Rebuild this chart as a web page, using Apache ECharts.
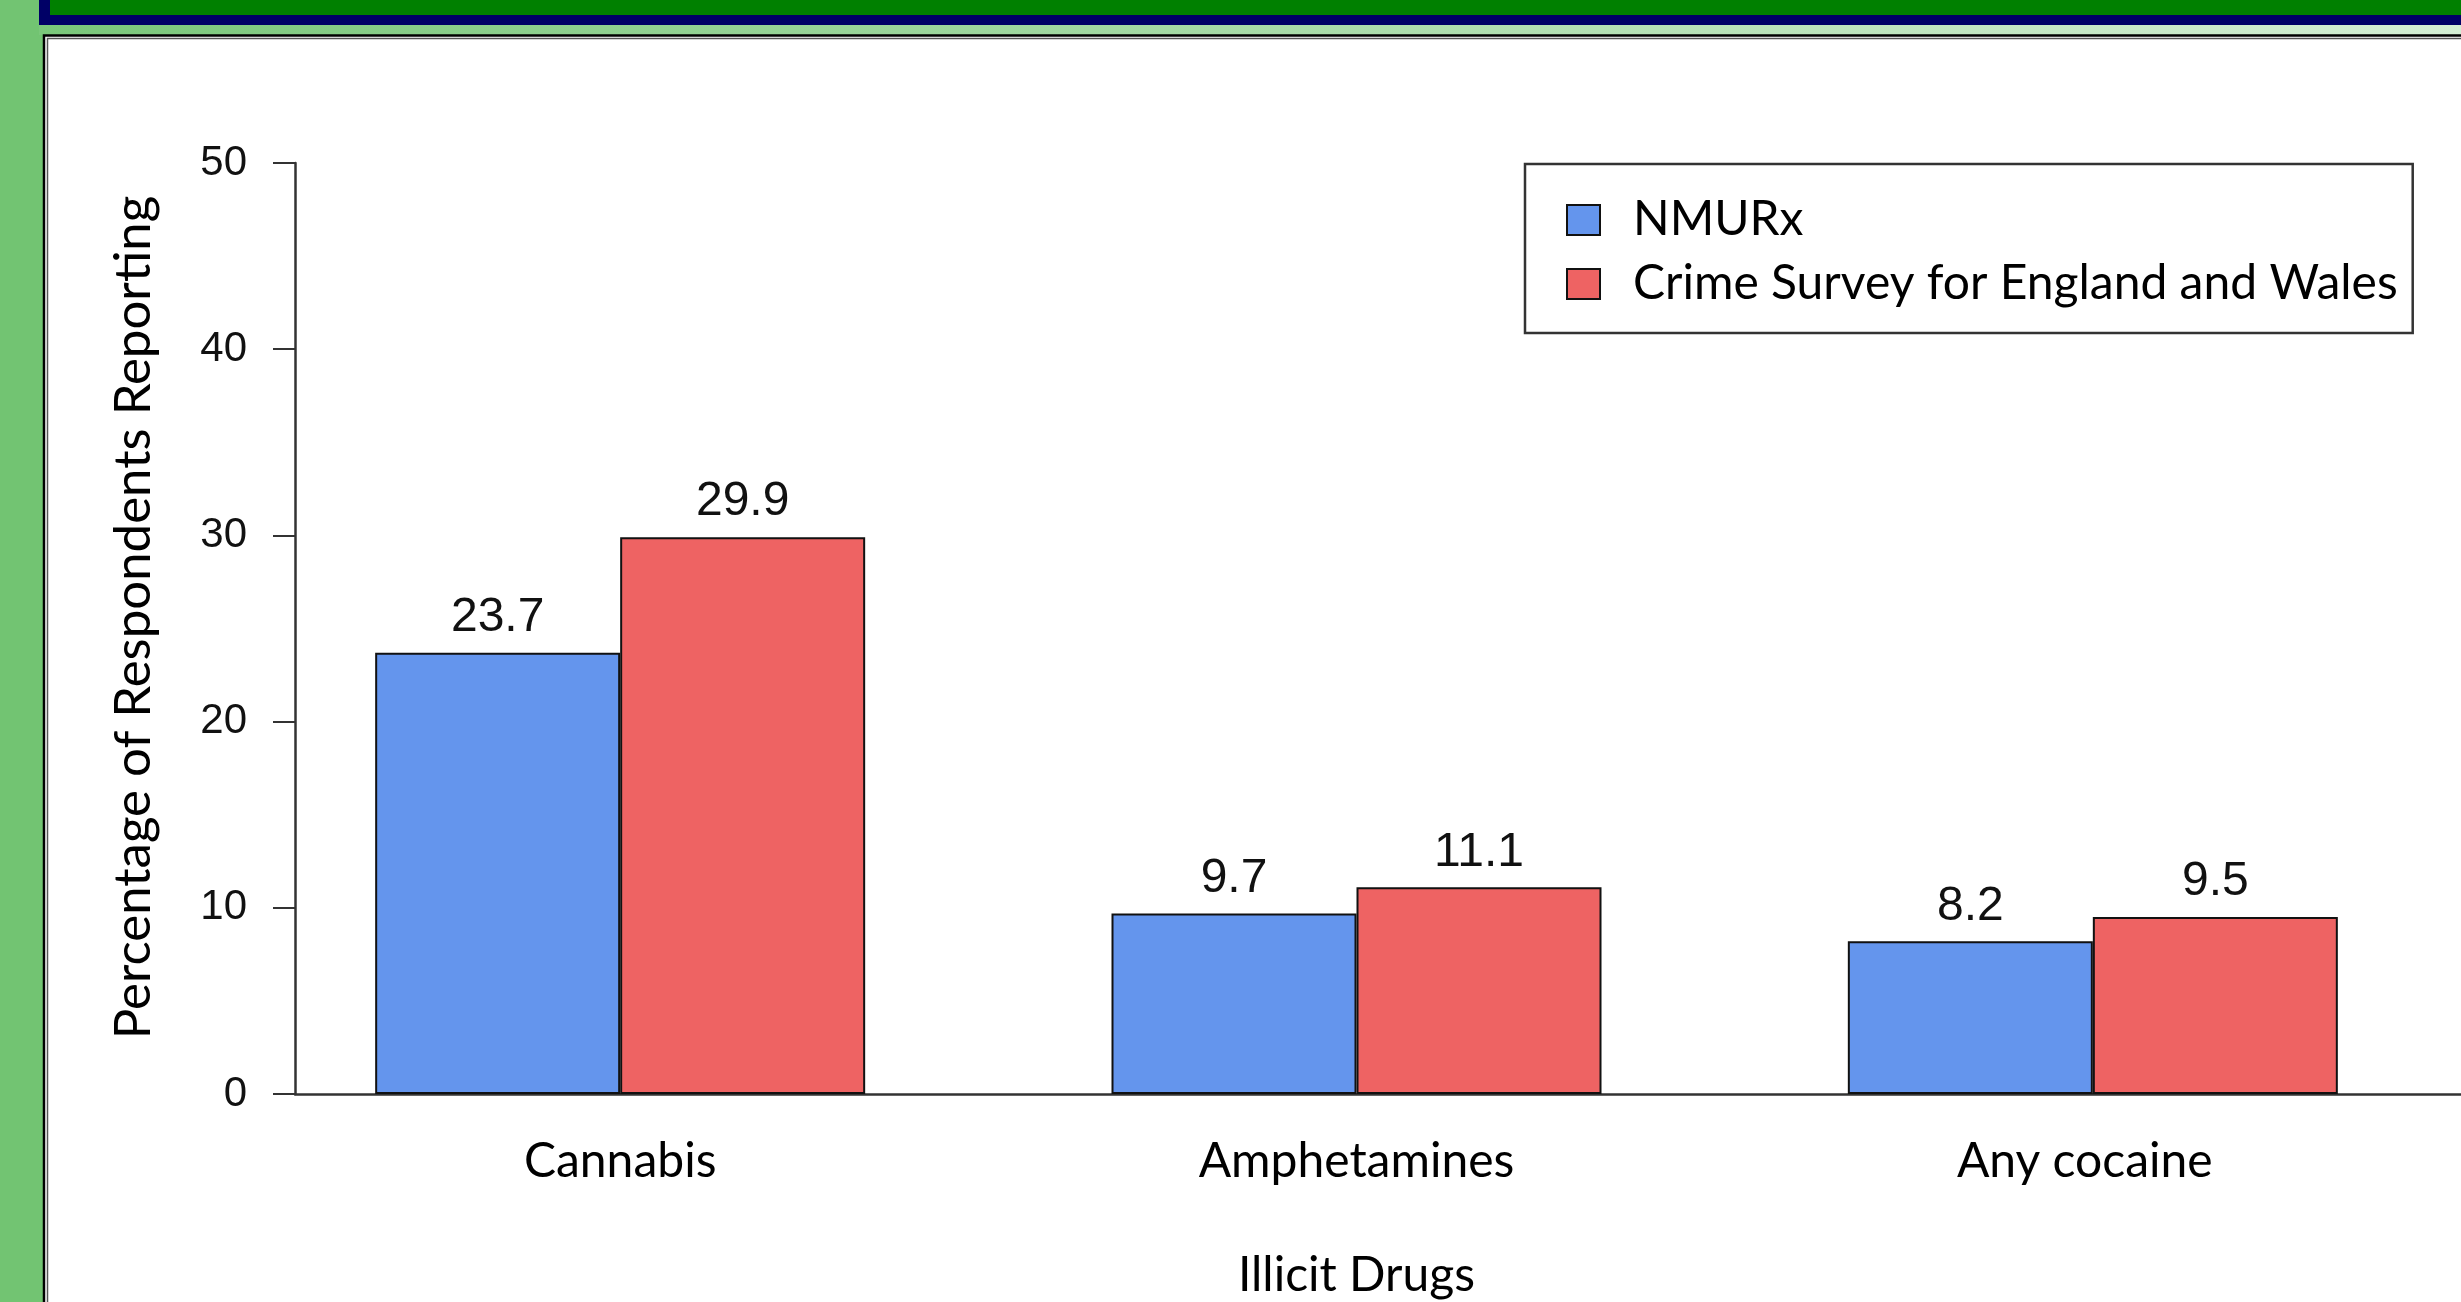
<!DOCTYPE html>
<html>
<head>
<meta charset="utf-8">
<title>Illicit Drugs – NMURx vs Crime Survey for England and Wales</title>
<script src="https://cdn.jsdelivr.net/npm/echarts@6/dist/echarts.min.js"></script>
<style>
  html, body { margin: 0; padding: 0; background: #72c472; }
  #chart { width: 2461px; height: 1302px; }
</style>
</head>
<body>
<div id="chart"></div>
<script>
// Percentage of respondents reporting use of each illicit drug
const categories = ['Cannabis', 'Amphetamines', 'Any cocaine'];
const seriesNames = ['NMURx', 'Crime Survey for England and Wales'];
const nmurxValues = [23.7, 9.7, 8.2];
const csewValues = [29.9, 11.1, 9.5];
const yTicks = [0, 10, 20, 30, 40, 50];

const BLUE = '#6495ed';
const RED = '#ee6363';
const AXIS = '#333333';
const TEXT_FONT = 'Lato';
const NUM_FONT = 'Liberation Sans';

const W = 2461, H = 1302;
const plotTop = 163, plotBottom = 208;

const chart = echarts.init(document.getElementById('chart'), null, { renderer: 'canvas' });

const yMin = yTicks[0], yMax = yTicks[yTicks.length - 1];
const yStep = yTicks[1] - yTicks[0];

// the last category label sits slightly left of its bar pair
const categoryData = categories.map((c, i) => i === categories.length - 1
  ? { value: c, textStyle: { padding: [0, 16, 0, 0] } }
  : c);

const labelStyle = {
  show: true, position: 'top', distance: 11,
  fontFamily: NUM_FONT, fontSize: 48, color: '#111111',
  formatter: p => p.value.toFixed(1)
};

const option = {
  animation: false,
  backgroundColor: 'transparent',
  graphic: [
    // slide furniture: navy header band with green title strip and a light gradient rule
    { type: 'rect', shape: { x: 39, y: 0, width: W - 39, height: 25 }, style: { fill: '#000066' }, silent: true },
    { type: 'rect', shape: { x: 50, y: 0, width: W - 50, height: 15 }, style: { fill: '#008000' }, silent: true },
    { type: 'rect', shape: { x: 39, y: 25, width: W - 39, height: 10 },
      style: { fill: new echarts.graphic.LinearGradient(0, 0, 1, 0, [
        { offset: 0, color: '#7ac77a' }, { offset: 1, color: '#d4eed4' }]) }, silent: true },
    // white panel with a double frame
    { type: 'rect', shape: { x: 44, y: 35.5, width: W + 50, height: H + 50 },
      style: { fill: '#ffffff', stroke: '#000000', lineWidth: 2.5 }, silent: true },
    { type: 'rect', shape: { x: 47.5, y: 38.5, width: W + 50, height: H + 50 },
      style: { fill: '#ffffff', stroke: '#555555', lineWidth: 1.5 }, silent: true }
  ],
  legend: {
    data: seriesNames,
    orient: 'vertical',
    icon: 'rect',
    left: 1525,
    top: 164,
    padding: [32, 15, 25, 41],
    itemWidth: 33,
    itemHeight: 30,
    itemGap: 16,
    borderColor: '#333333',
    borderWidth: 2.5,
    backgroundColor: '#ffffff',
    textStyle: { fontFamily: TEXT_FONT, fontSize: 48, color: '#000000', padding: [0, 0, 0, 28] }
  },
  grid: [
    // bars
    { left: 252, right: 0, top: plotTop, bottom: plotBottom, outerBoundsMode: 'none', containLabel: false },
    // frame axes: y scale and the zero line running to the right edge
    { left: 295, right: 0, top: plotTop, bottom: plotBottom, outerBoundsMode: 'none', containLabel: false }
  ],
  xAxis: [
    {
      type: 'category', gridIndex: 0, data: categoryData,
      axisLine: { show: false }, axisTick: { show: false },
      axisLabel: { fontFamily: TEXT_FONT, fontSize: 48, color: '#000000', margin: 44 },
      name: 'Illicit Drugs', nameLocation: 'middle', nameGap: 158,
      nameTextStyle: { fontFamily: TEXT_FONT, fontSize: 48, color: '#000000' }
    },
    {
      type: 'value', gridIndex: 1, min: 0, max: 1,
      axisLine: { show: true, onZero: false, lineStyle: { color: AXIS, width: 2.5 } },
      axisTick: { show: false }, axisLabel: { show: false }, splitLine: { show: false }
    }
  ],
  yAxis: [
    {
      type: 'value', gridIndex: 0, min: yMin, max: yMax, interval: yStep,
      show: false
    },
    {
      type: 'value', gridIndex: 1, min: yMin, max: yMax, interval: yStep,
      axisLine: { show: true, lineStyle: { color: AXIS, width: 2.5 } },
      axisTick: { show: true, length: 22, lineStyle: { color: AXIS, width: 2 } },
      axisLabel: { fontFamily: NUM_FONT, fontSize: 42, color: '#111111', margin: 48 },
      splitLine: { show: false },
      name: 'Percentage of Respondents Reporting', nameLocation: 'middle', nameRotate: 90, nameGap: 136,
      nameTextStyle: { fontFamily: TEXT_FONT, fontSize: 51, color: '#000000', padding: [0, 0, 0, 22] }
    }
  ],
  series: [
    {
      name: seriesNames[0], type: 'bar', xAxisIndex: 0, yAxisIndex: 0,
      data: nmurxValues, barWidth: 245, barGap: '0%',
      itemStyle: { color: BLUE, borderColor: '#111111', borderWidth: 2 },
      label: labelStyle
    },
    {
      name: seriesNames[1], type: 'bar', xAxisIndex: 0, yAxisIndex: 0,
      data: csewValues, barWidth: 245, barGap: '0%',
      itemStyle: { color: RED, borderColor: '#111111', borderWidth: 2 },
      label: labelStyle
    }
  ]
};

chart.setOption(option);
</script>
</body>
</html>
